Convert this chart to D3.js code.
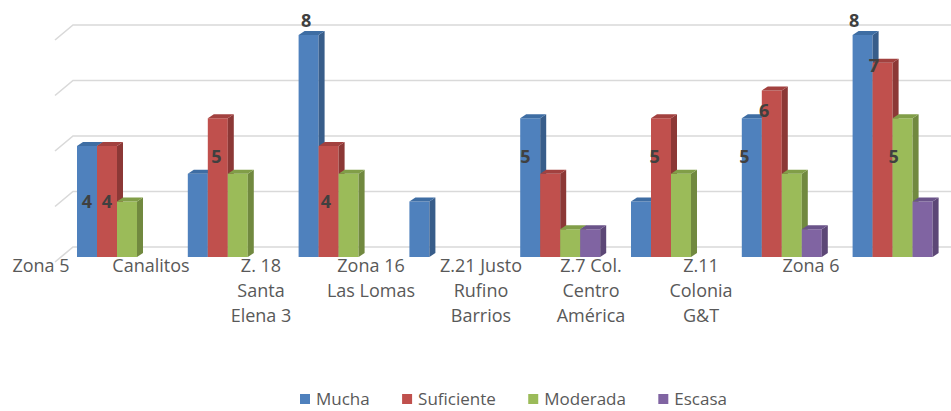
<!DOCTYPE html>
<html>
<head>
<meta charset="utf-8">
<script src="https://cdn.jsdelivr.net/npm/d3@7/dist/d3.min.js"></script>
<style>
  html, body { margin: 0; padding: 0; background: #fff; }
  svg { display: block; }
  text { font-family: "Open Sans", sans-serif; }
</style>
</head>
<body>
<svg id="chart" width="951" height="411"></svg>
<script>
// Zones (line breaks mark the wrapped axis labels)
const categories = [
  "Zona 5",
  "Canalitos",
  "Z. 18\nSanta\nElena 3",
  "Zona 16\nLas Lomas",
  "Z.21 Justo\nRufino\nBarrios",
  "Z.7 Col.\nCentro\nAmérica",
  "Z.11\nColonia\nG&T",
  "Zona 6"
];
const seriesNames = ["Mucha", "Suficiente", "Moderada", "Escasa"];
const mucha      = [4, 3, 8, 2, 5, 2, 5, 8];
const suficiente = [4, 5, 4, 0, 3, 5, 6, 7];
const moderada   = [2, 3, 3, 0, 1, 3, 3, 5];
const escasa     = [0, 0, 0, 0, 1, 0, 1, 2];
const gridTicks  = [0, 2, 4, 6, 8];

const seriesValues = [mucha, suficiente, moderada, escasa];
// front, side, top shades per series
const palette = [
  { front: "#4F81BD", side: "#385D8A", top: "#3E6DA3" },
  { front: "#C0504D", side: "#8C3836", top: "#A2413F" },
  { front: "#9BBB59", side: "#71893F", top: "#819E48" },
  { front: "#8064A2", side: "#5C4776", top: "#6A5389" }
];

const svg = d3.select("#chart");

// value scale for the bars' front faces
const y = d3.scaleLinear().domain([0, 8]).range([257, 35]);

// category bands and bars within each band
const x = d3.scaleBand().domain(categories)
  .range([61.6, 948]).paddingInner(0.278).paddingOuter(0.139);
const xs = d3.scaleBand().domain(seriesNames).range([0, x.bandwidth()]);

// axis-label positions along the floor edge
const xLabel = d3.scalePoint().domain(categories).range([41, 811]);

// bar depth (side/top faces) and wall depth (gridlines)
const barDx = 6, barDy = 4;
const wallFront = { x: 55, dy: 5 }, wallBack = { x: 73, dy: -10 };

// back-wall gridlines with their slanted left-wall segments
const grid = svg.append("g").attr("stroke", "#D9D9D9").attr("stroke-width", 1.6).attr("fill", "none");
gridTicks.forEach(t => {
  const yb = y(t) + wallBack.dy;
  grid.append("path")
    .attr("d", `M${wallFront.x},${y(t) + wallFront.dy} L${wallBack.x},${yb} L951,${yb}`);
});

// 3D bars
const bars = svg.append("g");
categories.forEach((cat, ci) => {
  seriesNames.forEach((s, si) => {
    const v = seriesValues[si][ci];
    if (!v) return;
    const x0 = x(cat) + xs(s), w = xs.bandwidth();
    const yt = y(v), yb = y(0);
    const c = palette[si];
    const g = bars.append("g");
    g.append("rect").attr("x", x0).attr("y", yt).attr("width", w).attr("height", yb - yt)
      .attr("fill", c.front);
    g.append("path")
      .attr("d", `M${x0 + w},${yt} L${x0 + w + barDx},${yt - barDy} L${x0 + w + barDx},${yb - barDy} L${x0 + w},${yb} Z`)
      .attr("fill", c.side);
    g.append("path")
      .attr("d", `M${x0},${yt} L${x0 + barDx},${yt - barDy} L${x0 + w + barDx},${yt - barDy} L${x0 + w},${yt} Z`)
      .attr("fill", c.top);
  });
});

// value labels (shown for the larger counts), placed along the projected bar
const labelY = d3.scaleLinear().domain([4, 8]).range([201.5, 20.5]);
const labels = svg.append("g")
  .attr("font-size", 18).attr("font-weight", 700).attr("fill", "#404040")
  .attr("text-anchor", "middle");
categories.forEach((cat, ci) => {
  seriesNames.forEach((s, si) => {
    const v = seriesValues[si][ci];
    if (v < 4) return;
    const cx = x(cat) + xs(s) + xs.bandwidth() / 2;
    const shift = -(cx - 87) * 0.011;
    labels.append("text")
      .attr("x", cx + shift).attr("y", labelY(v))
      .attr("dy", "0.36em")
      .text(v);
  });
});

// category axis labels
const axisLabels = svg.append("g")
  .attr("font-size", 18).attr("fill", "#595959").attr("text-anchor", "middle");
categories.forEach(cat => {
  const t = axisLabels.append("text").attr("x", xLabel(cat)).attr("y", 272);
  cat.split("\n").forEach((line, li) => {
    t.append("tspan").attr("x", xLabel(cat)).attr("y", 272 + li * 25).text(line);
  });
});

// legend, spread across its row
const legendLeft = 300, legendRight = 727, legendBaseline = 405;
const legend = svg.append("g").attr("font-size", 17).attr("fill", "#595959");
const entries = seriesNames.map((s, i) => {
  const g = legend.append("g");
  g.append("rect").attr("x", 0).attr("y", legendBaseline - 11).attr("width", 10).attr("height", 10)
    .attr("fill", palette[i].front);
  const t = g.append("text").attr("x", 16).attr("y", legendBaseline).text(s);
  return { g, w: 16 + t.node().getComputedTextLength() };
});
const used = d3.sum(entries, e => e.w);
const gap = (legendRight - legendLeft - used) / (entries.length - 1);
let cursor = legendLeft;
entries.forEach(e => {
  e.g.attr("transform", `translate(${cursor},0)`);
  cursor += e.w + gap;
});
</script>
</body>
</html>
